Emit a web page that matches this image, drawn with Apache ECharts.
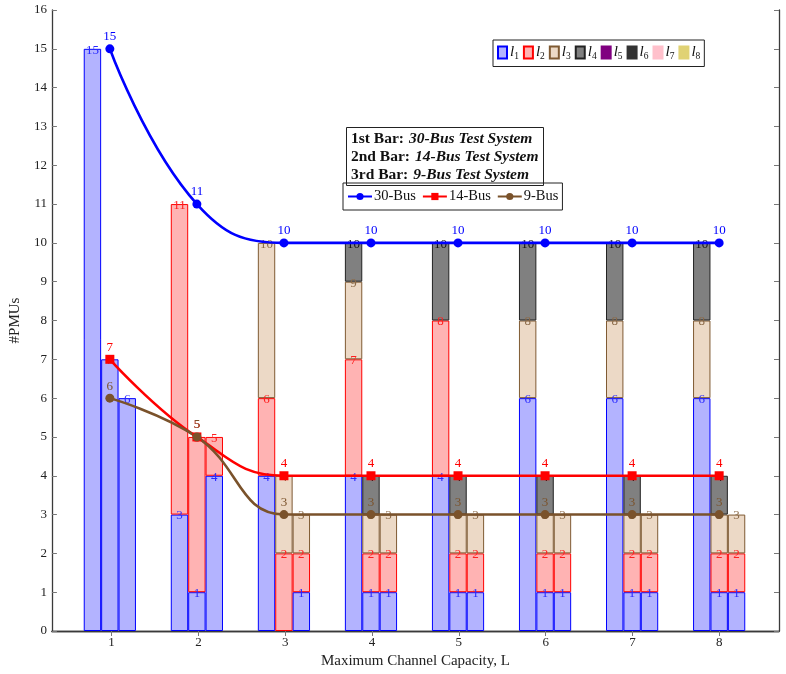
<!DOCTYPE html>
<html>
<head>
<meta charset="utf-8">
<script src="https://cdn.jsdelivr.net/npm/echarts@6/dist/echarts.min.js"></script>
<style>html,body{margin:0;padding:0;background:#fff}#c{width:786px;height:674px}</style>
</head>
<body>
<div id="c"></div>
<script>
// ---------- data ----------
const categories = ['1', '2', '3', '4', '5', '6', '7', '8'];
const xTickValues = [1, 2, 3, 4, 5, 6, 7, 8];
const yTickLabels = [0,1,2,3,4,5,6,7,8,9,10,11,12,13,14,15,16];
const layerNames = ['l1','l2','l3','l4','l5','l6','l7','l8'];

// 30-Bus test system (1st bar), layer sizes
const bus30_l1 = [15, 3, 4, 4, 4, 6, 6, 6];
const bus30_l2 = [0, 8, 2, 3, 4, 0, 0, 0];
const bus30_l3 = [0, 0, 4, 2, 0, 2, 2, 2];
const bus30_l4 = [0, 0, 0, 1, 2, 2, 2, 2];
// 14-Bus test system (2nd bar)
const bus14_l1 = [7, 1, 0, 1, 1, 1, 1, 1];
const bus14_l2 = [0, 4, 2, 1, 1, 1, 1, 1];
const bus14_l3 = [0, 0, 2, 1, 1, 1, 1, 1];
const bus14_l4 = [0, 0, 0, 1, 1, 1, 1, 1];
// 9-Bus test system (3rd bar)
const bus9_l1 = [6, 4, 1, 1, 1, 1, 1, 1];
const bus9_l2 = [0, 1, 1, 1, 1, 1, 1, 1];
const bus9_l3 = [0, 0, 1, 1, 1, 1, 1, 1];
const bus9_l4 = [0, 0, 0, 0, 0, 0, 0, 0];

// total #PMUs lines
const line30 = [15, 11, 10, 10, 10, 10, 10, 10];
const line14 = [7, 5, 4, 4, 4, 4, 4, 4];
const line9  = [6, 5, 3, 3, 3, 3, 3, 3];

// ---------- styles ----------
const SERIF = '"Liberation Serif", "DejaVu Serif", serif';
const layerStyle = {
  l1: {fill: '#b3b3ff', border: '#0000ff', label: '#2a2aff'},
  l2: {fill: '#ffb3b3', border: '#ff0000', label: '#ff2020'},
  l3: {fill: '#ecd9c6', border: '#7f5a33', label: '#8b6a48'},
  l4: {fill: '#808080', border: '#222222', label: '#111111'},
  l5: {fill: '#800080', border: '#800080', label: '#800080'},
  l6: {fill: '#333333', border: '#333333', label: '#333333'},
  l7: {fill: '#ffc0cb', border: '#ffc0cb', label: '#ffc0cb'},
  l8: {fill: '#e0d274', border: '#e0d274', label: '#e0d274'}
};

const stacks = [
  {id: 's30', layers: [bus30_l1, bus30_l2, bus30_l3, bus30_l4]},
  {id: 's14', layers: [bus14_l1, bus14_l2, bus14_l3, bus14_l4]},
  {id: 's9',  layers: [bus9_l1, bus9_l2, bus9_l3, bus9_l4]}
];

const series = [];
stacks.forEach(function (st) {
  const cum = categories.map(function () { return 0; });
  st.layers.forEach(function (arr, li) {
    const name = layerNames[li];
    const sty = layerStyle[name];
    const tops = [];
    const data = arr.map(function (v, i) {
      cum[i] += v;
      tops.push(cum[i]);
      return v === 0 ? '-' : v;
    });
    series.push({
      type: 'bar', name: name, stack: st.id, data: data,
      xAxisIndex: 0, yAxisIndex: 0,
      barWidth: 17.4, barGap: '0%',
      itemStyle: {color: sty.fill, borderColor: sty.border, borderWidth: 1},
      label: {
        show: true, position: 'insideTop', distance: -5,
        color: sty.label, fontFamily: SERIF, fontSize: 13,
        formatter: function (p) { return String(tops[p.dataIndex]); }
      },
      z: 2
    });
  });
});
// empty layers l5..l8 (legend only)
['l5','l6','l7','l8'].forEach(function (name) {
  const sty = layerStyle[name];
  series.push({type: 'bar', name: name, stack: 's30', data: [], xAxisIndex: 0, yAxisIndex: 0,
    barWidth: 17.4, barGap: '0%',
    itemStyle: {color: sty.fill, borderColor: sty.border, borderWidth: 1}});
});

function lineSeries(name, vals, color, symbol) {
  return {
    type: 'line', name: name, smooth: 0.45, xAxisIndex: 0, yAxisIndex: 0,
    data: vals,
    symbol: symbol, symbolSize: 9, showSymbol: true,
    lineStyle: {color: color, width: 2.6},
    itemStyle: {color: color},
    label: {show: true, position: 'top', distance: 1, color: color, fontFamily: SERIF, fontSize: 13},
    z: 5
  };
}
series.push(lineSeries('30-Bus', line30, '#0000ff', 'circle'));
series.push(lineSeries('14-Bus', line14, '#ff0000', 'rect'));
series.push(lineSeries('9-Bus', line9, '#7a522b', 'circle'));

// frame geometry: value range of the box in "category units"
const X_MIN = 0.3125, X_MAX = 8.6875;
const FRAME_LEFT = 50, FRAME_RIGHT = 7, CHART_W = 786;
const frameW = CHART_W - FRAME_LEFT - FRAME_RIGHT;
const unit = frameW / (X_MAX - X_MIN);
const bandLeft = FRAME_LEFT + (0.5 - X_MIN) * unit;
const bandW = unit * categories.length;

const axisColor = '#3a3a3a';
const option = {
  animation: false,
  backgroundColor: '#ffffff',
  grid: [
    {left: bandLeft, top: 10, width: bandW, bottom: 43, containLabel: false},
    {left: FRAME_LEFT, top: 10, right: FRAME_RIGHT, bottom: 43, containLabel: false}
  ],
  title: {
    left: 346, top: 127,
    padding: [3, 5, 2, 5],
    borderColor: '#222', borderWidth: 1,
    text: '{b|1st Bar:} {i|30-Bus Test System}\n{b|2nd Bar:} {i|14-Bus Test System}\n{b|3rd Bar:} {i|9-Bus Test System}',
    textStyle: {
      rich: {
        b: {fontFamily: SERIF, fontWeight: 'bold', fontSize: 15.5, lineHeight: 17, color: '#111'},
        i: {fontFamily: SERIF, fontStyle: 'italic', fontSize: 15.5, lineHeight: 17, color: '#111'}
      }
    }
  },
  legend: [
    {
      data: layerNames, left: 493, top: 40,
      orient: 'horizontal', icon: 'rect',
      itemWidth: 9, itemHeight: 12, itemGap: 4,
      padding: [5, 4, 5, 4], borderColor: '#222', borderWidth: 1, backgroundColor: '#fff',
      selectedMode: false,
      formatter: function (n) { return '{i|l}{s|' + n.slice(1) + '}'; },
      textStyle: {
        padding: [0, 0, 0, -2],
        rich: {
          i: {fontFamily: SERIF, fontStyle: 'italic', fontSize: 15, color: '#111'},
          s: {fontFamily: SERIF, fontSize: 9.5, color: '#111', padding: [8, 0, 0, 0]}
        }
      }
    },
    {
      data: ['30-Bus', '14-Bus', '9-Bus'], left: 343, top: 183,
      orient: 'horizontal',
      itemWidth: 24, itemHeight: 9, itemGap: 6,
      padding: [6, 4, 6, 4], borderColor: '#222', borderWidth: 1, backgroundColor: '#fff',
      selectedMode: false,
      textStyle: {fontFamily: SERIF, fontSize: 14.5, color: '#111', padding: [0, 0, 0, -3]}
    }
  ],
  xAxis: [
    {
      type: 'category', data: categories, gridIndex: 0, boundaryGap: true,
      axisLine: {show: false}, axisTick: {show: false}, axisLabel: {show: false}, splitLine: {show: false}
    },
    {
      type: 'value', gridIndex: 1, min: X_MIN, max: X_MAX, position: 'bottom',
      name: 'Maximum Channel Capacity, L', nameLocation: 'middle', nameGap: 22,
      nameTextStyle: {fontFamily: SERIF, fontSize: 15, color: '#222'},
      axisLine: {show: true, lineStyle: {color: axisColor, width: 1.3}},
      axisTick: {show: true, inside: true, length: 5, customValues: xTickValues, lineStyle: {color: '#777'}},
      axisLabel: {show: true, customValues: xTickValues, margin: 5, fontFamily: SERIF, fontSize: 13, color: '#222'},
      splitLine: {show: false}
    },
    {
      type: 'value', gridIndex: 1, min: X_MIN, max: X_MAX, position: 'top',
      axisLine: {show: true, lineStyle: {color: axisColor, width: 1.3}},
      axisTick: {show: true, inside: true, length: 5, customValues: xTickValues, lineStyle: {color: '#777'}},
      axisLabel: {show: false},
      splitLine: {show: false}
    }
  ],
  yAxis: [
    {
      type: 'value', gridIndex: 0, min: 0, max: 16, interval: 1,
      axisLine: {show: false}, axisTick: {show: false}, axisLabel: {show: false}, splitLine: {show: false}
    },
    {
      type: 'value', gridIndex: 1, min: 0, max: 16, interval: 1, position: 'left',
      name: '#PMUs', nameLocation: 'middle', nameGap: 28, nameRotate: 90,
      nameTextStyle: {fontFamily: SERIF, fontSize: 15, color: '#222'},
      axisLine: {show: true, lineStyle: {color: axisColor, width: 1.3}},
      axisTick: {show: true, inside: true, length: 5, lineStyle: {color: '#777'}},
      axisLabel: {show: true, margin: 5, fontFamily: SERIF, fontSize: 13, color: '#222',
        formatter: function (v) { return yTickLabels.indexOf(v) >= 0 ? String(v) : ''; }},
      splitLine: {show: false}
    },
    {
      type: 'value', gridIndex: 1, min: 0, max: 16, interval: 1, position: 'right',
      axisLine: {show: true, lineStyle: {color: axisColor, width: 1.3}},
      axisTick: {show: true, inside: true, length: 5, lineStyle: {color: '#777'}},
      axisLabel: {show: false},
      splitLine: {show: false}
    }
  ],
  series: series
};

const chart = echarts.init(document.getElementById('c'), null, {renderer: 'canvas'});
chart.setOption(option);
</script>
</body>
</html>
